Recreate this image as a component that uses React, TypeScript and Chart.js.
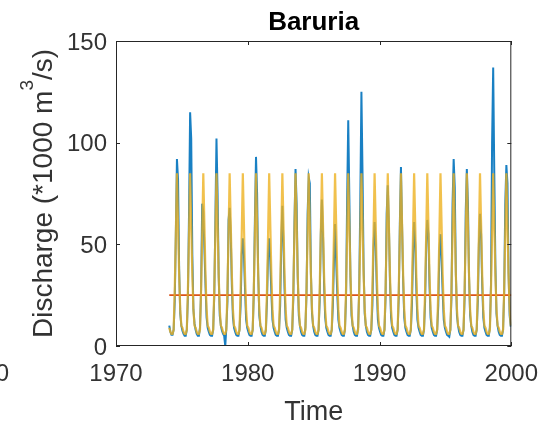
import React, { useEffect, useRef } from "react";
import { Chart, registerables } from "chart.js";

Chart.register(...registerables);

// ---------- data ----------
const chartTitle = "Baruria";
const xAxisTitle = "Time";
const yAxisTitleMain = "Discharge (*1000 m";
const yAxisTitleSup = "3";
const yAxisTitleEnd = "/s)";
const neighbourTickLabel = "2000";

const xTicks = [1970, 1980, 1990, 2000];
const yTicks = [0, 50, 100, 150];

const years = [
  1974, 1975, 1976, 1977, 1978, 1979, 1980, 1981, 1982, 1983, 1984, 1985, 1986,
  1987, 1988, 1989, 1990, 1991, 1992, 1993, 1994, 1995, 1996, 1997, 1998, 1999,
];

// observed monthly discharge (Jan..Dec), *1000 m3/s
const observedMonthly = [
  [10, 7, 5.5, 5.5, 8, 22, 55, 92, 82, 38, 16, 10],
  [7.5, 6, 5, 5, 8, 24, 65, 115, 102, 45, 18, 11],
  [8, 6, 5, 5, 9, 28, 70, 66, 48, 30, 14, 9],
  [7, 5.5, 5, 5, 8, 25, 62, 102, 75, 35, 15, 10],
  [7.5, 6, 5, 0, 9, 22, 62, 68, 55, 30, 14, 9],
  [7, 5.5, 5, 5, 8, 20, 45, 53, 45, 28, 13, 9],
  [7, 5.5, 5, 5, 8, 26, 62, 93, 75, 35, 15, 10],
  [7, 5.5, 5, 5, 8, 22, 45, 53, 42, 26, 13, 9],
  [7, 5.5, 5, 5, 8, 20, 50, 69, 50, 28, 13, 9],
  [7, 5.5, 5, 5, 8, 24, 60, 87, 70, 34, 15, 10],
  [7, 5.5, 5, 5, 9, 26, 65, 83, 80, 36, 16, 10],
  [7, 5.5, 5, 5, 8, 22, 55, 72, 55, 30, 14, 9],
  [7, 5.5, 5, 5, 8, 20, 42, 60, 42, 26, 13, 9],
  [7, 5.5, 5, 5, 8, 24, 72, 111, 73, 34, 15, 10],
  [7, 5.5, 5, 5, 9, 28, 72, 125, 85, 38, 16, 10],
  [7, 5.5, 5, 5, 8, 20, 48, 61, 50, 28, 13, 9],
  [7, 5.5, 5, 5, 8, 24, 65, 79, 60, 32, 14, 9],
  [7, 5.5, 5, 5, 8, 24, 60, 88, 60, 32, 14, 9],
  [7, 5.5, 5, 5, 8, 20, 45, 61, 50, 28, 13, 9],
  [7, 5.5, 5, 5, 8, 22, 50, 62, 55, 30, 14, 9],
  [7, 5.5, 5, 5, 8, 20, 47, 55, 42, 26, 13, 9],
  [7, 5.5, 5, 4.5, 8, 24, 70, 92, 78, 36, 15, 10],
  [7, 5.5, 5, 5, 8, 24, 66, 87, 70, 34, 15, 10],
  [7, 5.5, 5, 5, 8, 22, 50, 65, 55, 30, 14, 9],
  [7, 5.5, 5, 5, 9, 30, 100, 137, 85, 40, 16, 10],
  [7, 5.5, 5, 5, 8, 26, 70, 89, 80, 36, 15, 9.5],
];

// modelled seasonal cycle (Jan..Dec), identical every year in the figure
const modelMonthlyCycle = [9, 7, 6, 6, 8, 28, 55, 85, 60, 35, 18, 10];

// long-term mean discharge
const meanDischarge = 25;

// ---------- styles ----------
const FONT = "'Liberation Sans', Arial, Helvetica, sans-serif";
const AXIS_COLOR = "#262626";
const LABEL_COLOR = "#333333";
const BLUE = "rgba(0,114,189,0.9)";
const ORANGE = "#D95319";
const YELLOW = "rgba(237,177,32,0.8)";

const monthX = (year: number, m: number) => year + (m + 0.5) / 12;

export default function App() {
  const canvasRef = useRef<HTMLCanvasElement | null>(null);

  useEffect(() => {
    document.body.style.margin = "0";
    const canvas = canvasRef.current;
    if (!canvas) return;

    const observed: { x: number; y: number }[] = [];
    const model: { x: number; y: number }[] = [];
    years.forEach((yr, i) => {
      observedMonthly[i].forEach((v, m) => observed.push({ x: monthX(yr, m), y: v }));
      modelMonthlyCycle.forEach((v, m) => model.push({ x: monthX(yr, m), y: v }));
    });
    const meanLine = [
      { x: monthX(years[0], 0), y: meanDischarge },
      { x: xTicks[xTicks.length - 1], y: meanDischarge },
    ];

    const decor = {
      id: "matlabDecor",
      afterDatasetsDraw(chart: any) {
        const { ctx, chartArea: a, scales } = chart;
        ctx.save();
        ctx.strokeStyle = AXIS_COLOR;
        ctx.lineWidth = 1;
        ctx.strokeRect(a.left + 0.5, a.top + 0.5, a.right - a.left - 1, a.bottom - a.top - 1);
        const tl = 4;
        ctx.beginPath();
        xTicks.forEach((v) => {
          const px = Math.round(scales.x.getPixelForValue(v)) + 0.5;
          ctx.moveTo(px, a.bottom);
          ctx.lineTo(px, a.bottom - tl);
          ctx.moveTo(px, a.top);
          ctx.lineTo(px, a.top + tl);
        });
        yTicks.forEach((v) => {
          const py = Math.round(scales.y.getPixelForValue(v)) + 0.5;
          ctx.moveTo(a.left, py);
          ctx.lineTo(a.left + tl, py);
          ctx.moveTo(a.right, py);
          ctx.lineTo(a.right - tl, py);
        });
        ctx.stroke();
        ctx.restore();
      },
      afterDraw(chart: any) {
        const { ctx, chartArea: a } = chart;
        const cx = (a.left + a.right) / 2;
        const cy = (a.top + a.bottom) / 2;
        ctx.save();
        // title
        ctx.fillStyle = "#000000";
        ctx.font = `bold 26px ${FONT}`;
        ctx.textAlign = "center";
        ctx.textBaseline = "alphabetic";
        ctx.fillText(chartTitle, cx, 29.5);
        // x title
        ctx.fillStyle = LABEL_COLOR;
        ctx.font = `27px ${FONT}`;
        ctx.fillText(xAxisTitle, cx, 419.5);
        // neighbouring subplot's cut-off tick label
        ctx.font = `24px ${FONT}`;
        ctx.textAlign = "right";
        ctx.textBaseline = "middle";
        ctx.fillText(neighbourTickLabel, 9, 374);
        // y title with superscript
        ctx.translate(52, cy);
        ctx.rotate(-Math.PI / 2);
        ctx.textAlign = "left";
        ctx.textBaseline = "alphabetic";
        ctx.font = `28px ${FONT}`;
        const w1 = ctx.measureText(yAxisTitleMain).width;
        const w3 = ctx.measureText(yAxisTitleEnd).width;
        ctx.font = `19px ${FONT}`;
        const w2 = ctx.measureText(yAxisTitleSup).width;
        const start = -(w1 + w2 + w3) / 2;
        ctx.font = `28px ${FONT}`;
        ctx.fillText(yAxisTitleMain, start, 0);
        ctx.font = `19px ${FONT}`;
        ctx.fillText(yAxisTitleSup, start + w1, -19);
        ctx.font = `28px ${FONT}`;
        ctx.fillText(yAxisTitleEnd, start + w1 + w2, 0);
        ctx.restore();
      },
    };

    const chart = new Chart(canvas, {
      type: "line",
      data: {
        datasets: [
          {
            label: "Model",
            data: model,
            borderColor: YELLOW,
            borderWidth: 2.2,
            pointRadius: 0,
            tension: 0,
            order: 0,
          },
          {
            label: "Mean",
            data: meanLine,
            borderColor: ORANGE,
            borderWidth: 1.6,
            pointRadius: 0,
            order: 1,
          },
          {
            label: "Observed",
            data: observed,
            borderColor: BLUE,
            borderWidth: 2,
            pointRadius: 0,
            tension: 0,
            order: 2,
          },
        ],
      },
      options: {
        responsive: false,
        animation: false,
        devicePixelRatio: 1,
        layout: { padding: { left: 0, right: 38, top: 41, bottom: 0 } },
        plugins: {
          legend: { display: false },
          title: { display: false },
          tooltip: { enabled: false },
        },
        scales: {
          x: {
            type: "linear",
            min: xTicks[0],
            max: xTicks[xTicks.length - 1],
            grid: { display: false, drawTicks: false },
            border: { display: false },
            afterBuildTicks: (s: any) => {
              s.ticks = xTicks.map((v) => ({ value: v }));
            },
            afterFit: (s: any) => {
              s.height = 77;
            },
            ticks: {
              color: LABEL_COLOR,
              font: { family: FONT, size: 24 },
              padding: 14,
              maxRotation: 0,
              autoSkip: false,
              callback: (v: any) => String(v),
            },
          },
          y: {
            type: "linear",
            min: yTicks[0],
            max: yTicks[yTicks.length - 1],
            grid: { display: false, drawTicks: false },
            border: { display: false },
            afterBuildTicks: (s: any) => {
              s.ticks = yTicks.map((v) => ({ value: v }));
            },
            afterFit: (s: any) => {
              s.width = 116;
            },
            ticks: {
              color: LABEL_COLOR,
              font: { family: FONT, size: 24 },
              padding: 9,
              labelOffset: 2,
              callback: (v: any) => String(v),
            },
          },
        },
      },
      plugins: [decor],
    });

    return () => chart.destroy();
  }, []);

  return (
    <div style={{ width: 552, height: 423, background: "#ffffff" }}>
      <canvas ref={canvasRef} width={552} height={423} style={{ display: "block" }} />
    </div>
  );
}
